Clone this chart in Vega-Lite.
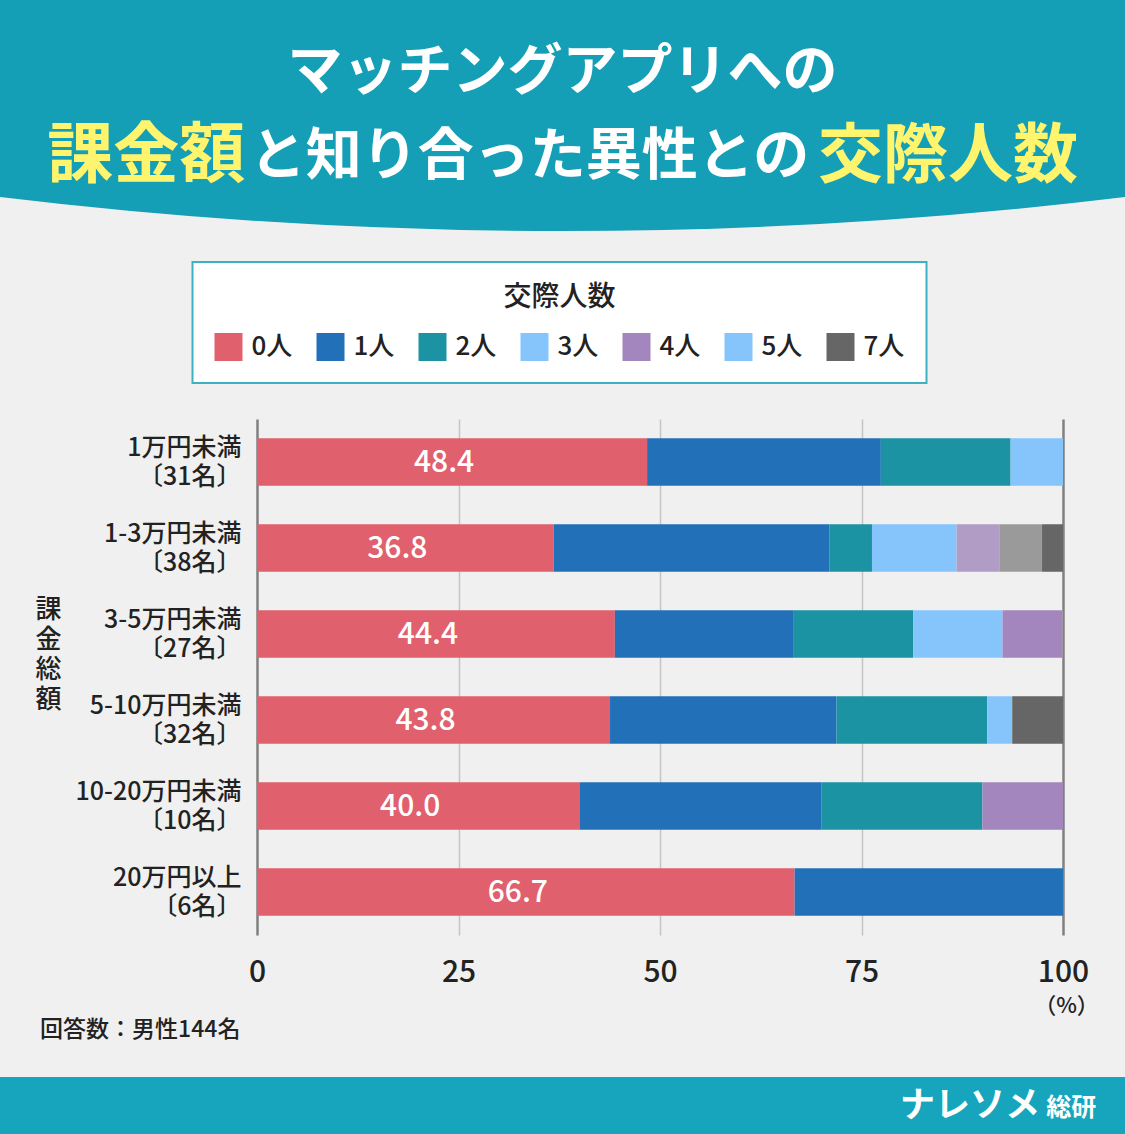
{
  "$schema": "https://vega.github.io/schema/vega-lite/v6.json",
  "background": "#f0f0f0",
  "padding": 0,
  "spacing": 0,
  "resolve": {"legend": {"color": "independent"}},
  "config": {
    "view": {"stroke": null},
    "font": "Noto Sans CJK JP",
    "legend": {"strokeWidth": 2}
  },
  "vconcat": [
    {
      "width": 1125,
      "height": 254,
      "data": {"values": [{}]},
      "layer": [
        {
          "mark": {"type": "point", "shape": "M-1,-0.35L1,-0.35L1,0Q0,0.121,-1,0Z", "filled": true, "fill": "#149fb6", "opacity": 1, "size": 1265625, "strokeWidth": 0},
          "encoding": {
            "x": {"datum": 50, "type": "quantitative", "scale": {"domain": [0, 100]}, "axis": null},
            "y": {"datum": 74.8, "type": "quantitative", "scale": {"domain": [0, 100], "reverse": true}, "axis": null}
          }
        },
        {
          "mark": {"type": "text", "text": "マッチングアプリへの", "color": "#ffffff", "fontSize": 55, "fontWeight": "bold", "align": "center", "baseline": "middle"},
          "encoding": {"x": {"datum": 50, "type": "quantitative"}, "y": {"datum": 25.6, "type": "quantitative"}}
        },
        {
          "mark": {"type": "text", "text": "課金額", "color": "#fff46e", "fontSize": 66, "fontWeight": "bold", "align": "left", "baseline": "middle"},
          "encoding": {"x": {"datum": 4.2, "type": "quantitative"}, "y": {"datum": 59.1, "type": "quantitative"}}
        },
        {
          "mark": {"type": "text", "text": "と知り合った異性との", "color": "#ffffff", "fontSize": 56, "fontWeight": "bold", "align": "left", "baseline": "middle"},
          "encoding": {"x": {"datum": 22.2, "type": "quantitative"}, "y": {"datum": 59.1, "type": "quantitative"}}
        },
        {
          "mark": {"type": "text", "text": "交際人数", "color": "#fff46e", "fontSize": 65, "fontWeight": "bold", "align": "left", "baseline": "middle"},
          "encoding": {"x": {"datum": 72.7, "type": "quantitative"}, "y": {"datum": 59.1, "type": "quantitative"}}
        }
      ]
    },
    {
      "spacing": 0,
      "resolve": {"legend": {"color": "independent"}},
      "hconcat": [
        {
          "width": 34,
          "height": 10,
          "data": {"values": [{}]},
          "mark": {"type": "point", "opacity": 0}
        },
        {
          "width": 806,
          "height": 516,
          "data": {
            "values": [
              {"group": "1万円未満\n〔31名〕", "k": "0人", "pct": 48.4},
              {"group": "1万円未満\n〔31名〕", "k": "1人", "pct": 29.0},
              {"group": "1万円未満\n〔31名〕", "k": "2人", "pct": 16.1},
              {"group": "1万円未満\n〔31名〕", "k": "3人", "pct": 6.5},
              {"group": "1-3万円未満\n〔38名〕", "k": "0人", "pct": 36.8},
              {"group": "1-3万円未満\n〔38名〕", "k": "1人", "pct": 34.2},
              {"group": "1-3万円未満\n〔38名〕", "k": "2人", "pct": 5.3},
              {"group": "1-3万円未満\n〔38名〕", "k": "3人", "pct": 10.5},
              {"group": "1-3万円未満\n〔38名〕", "k": "4人", "pct": 5.3},
              {"group": "1-3万円未満\n〔38名〕", "k": "5人", "pct": 5.3},
              {"group": "1-3万円未満\n〔38名〕", "k": "7人", "pct": 2.6},
              {"group": "3-5万円未満\n〔27名〕", "k": "0人", "pct": 44.4},
              {"group": "3-5万円未満\n〔27名〕", "k": "1人", "pct": 22.2},
              {"group": "3-5万円未満\n〔27名〕", "k": "2人", "pct": 14.8},
              {"group": "3-5万円未満\n〔27名〕", "k": "3人", "pct": 11.1},
              {"group": "3-5万円未満\n〔27名〕", "k": "4人", "pct": 7.4},
              {"group": "5-10万円未満\n〔32名〕", "k": "0人", "pct": 43.8},
              {"group": "5-10万円未満\n〔32名〕", "k": "1人", "pct": 28.1},
              {"group": "5-10万円未満\n〔32名〕", "k": "2人", "pct": 18.7},
              {"group": "5-10万円未満\n〔32名〕", "k": "3人", "pct": 3.1},
              {"group": "5-10万円未満\n〔32名〕", "k": "7人", "pct": 6.3},
              {"group": "10-20万円未満\n〔10名〕", "k": "0人", "pct": 40.0},
              {"group": "10-20万円未満\n〔10名〕", "k": "1人", "pct": 30.0},
              {"group": "10-20万円未満\n〔10名〕", "k": "2人", "pct": 20.0},
              {"group": "10-20万円未満\n〔10名〕", "k": "4人", "pct": 10.0},
              {"group": "20万円以上\n〔6名〕", "k": "0人", "pct": 66.7},
              {"group": "20万円以上\n〔6名〕", "k": "1人", "pct": 33.3}
            ]
          },
          "encoding": {
            "y": {
              "field": "group",
              "type": "nominal",
              "sort": null,
              "scale": {"paddingInner": 0.45, "paddingOuter": 0.225},
              "title": ["課", "金", "総", "額"],
              "axis": {
                "titleAngle": 0,
                "titleX": -209,
                "titleY": 190,
                "titleAlign": "center",
                "titleBaseline": "middle",
                "titleFontSize": 26,
                "titleLineHeight": 30,
                "titleFontWeight": 500,
                "titleColor": "#222222",
                "labelExpr": "split(datum.label, '\\n')",
                "labelFontSize": 25,
                "labelFontWeight": 500,
                "labelLineHeight": 29,
                "labelOffset": -14.5,
                "labelColor": "#222222",
                "labelPadding": 16,
                "domain": false,
                "ticks": false
              }
            }
          },
          "layer": [
            {
              "mark": {"type": "bar"},
              "encoding": {
                "x": {
                  "field": "pct",
                  "type": "quantitative",
                  "stack": "zero",
                  "scale": {"domain": [0, 100], "nice": false},
                  "title": "（%）",
                  "axis": {
                    "values": [0, 25, 50, 75, 100],
                    "titleX": 809,
                    "titleY": 70,
                    "titleAlign": "center",
                    "titleBaseline": "middle",
                    "titleFontSize": 22,
                    "titleFontWeight": 500,
                    "titleColor": "#222222",
                    "labelFontSize": 30,
                    "labelFontWeight": 500,
                    "labelColor": "#222222",
                    "labelPadding": 22,
                    "labelFlush": false,
                    "domain": false,
                    "ticks": false,
                    "grid": true,
                    "gridColor": {"condition": {"test": "datum.value === 0 || datum.value === 100", "value": "#808080"}, "value": "#c4c4c4"},
                    "gridWidth": {"condition": {"test": "datum.value === 0 || datum.value === 100", "value": 2.5}, "value": 1.5}
                  }
                },
                "color": {
                  "field": "k",
                  "type": "nominal",
                  "condition": [
                    {"test": "indexof(datum.group, '1-3万') === 0 && datum.k === '4人'", "value": "#b09cc4"},
                    {"test": "indexof(datum.group, '1-3万') === 0 && datum.k === '5人'", "value": "#9a9a9a"}
                  ],
                  "scale": {
                    "domain": ["0人", "1人", "2人", "3人", "4人", "5人", "7人"],
                    "range": ["#e0606d", "#2270b8", "#1b93a3", "#86c5fc", "#a386bd", "#86c5fc", "#666666"]
                  },
                  "legend": {
                    "title": "交際人数",
                    "orient": "none",
                    "legendX": -64.5,
                    "legendY": -157,
                    "direction": "horizontal",
                    "columns": 7,
                    "titleAnchor": "middle",
                    "titleFontSize": 28,
                    "titleFontWeight": 500,
                    "titleColor": "#222222",
                    "titlePadding": 21,
                    "labelFontSize": 26,
                    "labelFontWeight": 500,
                    "labelColor": "#222222",
                    "labelOffset": 9,
                    "columnPadding": 24,
                    "symbolType": "square",
                    "symbolSize": 784,
                    "symbolStrokeWidth": 0,
                    "symbolOpacity": 1,
                    "padding": 22,
                    "fillColor": "#ffffff",
                    "strokeColor": "#3cb1c1"
                  }
                },
                "order": {"field": "k", "sort": "ascending"}
              }
            },
            {
              "transform": [
                {"filter": "datum.k === '0人'"},
                {"calculate": "datum.pct / 2", "as": "mid"}
              ],
              "mark": {"type": "text", "color": "#ffffff", "fontSize": 30, "fontWeight": 500, "dx": -8, "dy": 1, "baseline": "middle"},
              "encoding": {
                "x": {"field": "mid", "type": "quantitative", "title": "（%）"},
                "text": {"field": "pct", "type": "quantitative", "format": ".1f"}
              }
            }
          ]
        }
      ]
    },
    {
      "width": 1125,
      "height": 118,
      "data": {"values": [{}]},
      "layer": [
        {
          "mark": {"type": "rect", "color": "#16a5bc"},
          "encoding": {
            "x": {"datum": 0, "type": "quantitative", "scale": {"domain": [0, 100]}, "axis": null},
            "x2": {"datum": 100},
            "y": {"datum": 51.7, "type": "quantitative", "scale": {"domain": [0, 100], "reverse": true}, "axis": null},
            "y2": {"datum": 100}
          }
        },
        {
          "mark": {"type": "text", "text": "回答数：男性144名", "color": "#222222", "fontSize": 23, "fontWeight": 500, "align": "left", "baseline": "middle"},
          "encoding": {"x": {"datum": 3.56, "type": "quantitative"}, "y": {"datum": 11.9, "type": "quantitative"}}
        },
        {
          "mark": {"type": "text", "text": "ナレソメ", "color": "#ffffff", "fontSize": 35, "fontWeight": "bold", "align": "left", "baseline": "middle"},
          "encoding": {"x": {"datum": 80, "type": "quantitative"}, "y": {"datum": 76.3, "type": "quantitative"}}
        },
        {
          "mark": {"type": "text", "text": "総研", "color": "#ffffff", "fontSize": 25, "fontWeight": "bold", "align": "left", "baseline": "middle"},
          "encoding": {"x": {"datum": 93, "type": "quantitative"}, "y": {"datum": 78, "type": "quantitative"}}
        }
      ]
    }
  ]
}
